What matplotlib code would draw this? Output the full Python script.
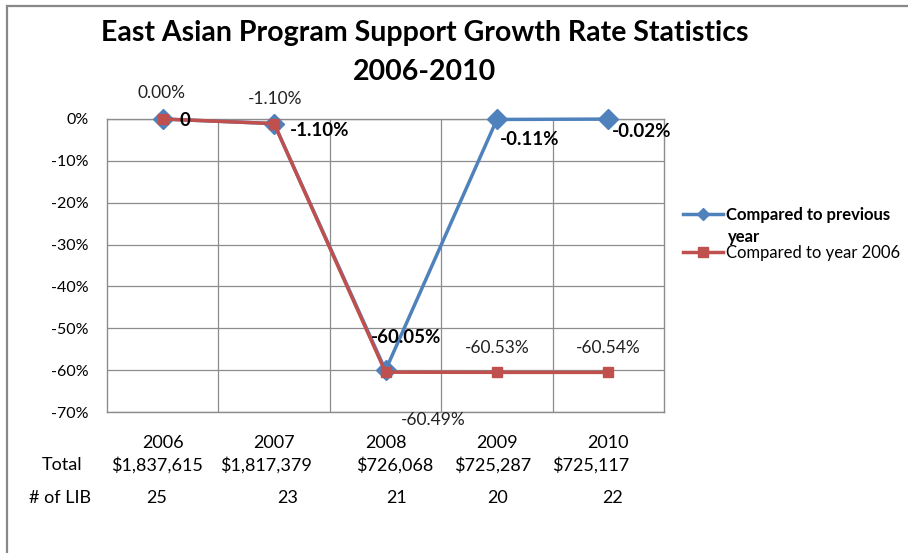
import matplotlib
matplotlib.use("Agg")
import matplotlib.pyplot as plt
import matplotlib.patches as patches
from matplotlib.ticker import FuncFormatter
from matplotlib.lines import Line2D

plt.rcParams['font.family'] = ['Lato', 'DejaVu Sans']

years = ['2006', '2007', '2008', '2009', '2010']
totals = ['$1,837,615', '$1,817,379', '$726,068', '$725,287', '$725,117']
libs = ['25', '23', '21', '20', '22']
prev_year = [0.00, -1.10, -60.05, -0.11, -0.02]
vs_2006 = [0.00, -1.10, -60.49, -60.53, -60.54]
prev_labels = ['0', '-1.10%', '-60.05%', '-0.11%', '-0.02%']
base_labels = ['0.00%', '-1.10%', '-60.49%', '-60.53%', '-60.54%']

BLUE = '#4F81BD'
RED = '#C0504D'
GRID = '#8C8C8C'
PX = 72 / 100.0  # pixels -> points

fig = plt.figure(figsize=(9.08, 5.53), dpi=100)
ax = fig.add_axes([107 / 908, 1 - 412 / 553, 557 / 908, 293 / 553])

x = list(range(len(years)))
ax.plot(x, prev_year, color=BLUE, lw=2.5, marker='D', markersize=10,
        clip_on=False, zorder=3)
ax.plot(x, vs_2006, color=RED, lw=2.5, marker='s', markersize=7.5,
        clip_on=False, zorder=4)

ax.set_xlim(-0.5, 4.5)
ax.set_ylim(-70, 0)
ax.set_yticks(range(-70, 1, 10))
ax.yaxis.set_major_formatter(FuncFormatter(lambda v, p: f"{int(round(v))}%"))
ax.set_xticks([])
ax.tick_params(axis='y', length=0, pad=13, labelsize=11.5)
ax.grid(axis='y', color=GRID, lw=0.9)
for xv in [0.5, 1.5, 2.5, 3.5]:
    ax.axvline(xv, color=GRID, lw=0.9, zorder=0)
for s in ax.spines.values():
    s.set_color(GRID)
    s.set_linewidth(1.0)
ax.set_axisbelow(True)

# data labels (offsets in pixels)
base_off = [(-1, 26), (1, 25), (48, -48), (0, 24), (0, 24)]
for i, (lab, (dx, dy)) in enumerate(zip(base_labels, base_off)):
    ax.annotate(lab, (i, vs_2006[i]), xytext=(dx * PX, dy * PX),
                textcoords='offset points', ha='center', va='center',
                fontsize=12.5, color='#222222', annotation_clip=False)

prev_off = [(22, -2, 'center'), (16, -7, 'left'), (21, 33, 'center'),
            (3, -20, 'left'), (4, -12, 'left')]
for i, (lab, (dx, dy, ha)) in enumerate(zip(prev_labels, prev_off)):
    ax.annotate(lab, (i, prev_year[i]), xytext=(dx * PX, dy * PX),
                textcoords='offset points', ha=ha, va='center',
                fontsize=13.5, fontweight='bold', color='black',
                annotation_clip=False, zorder=5)

# table beneath the chart
xt = ax.get_xaxis_transform()
tot_off = [-6, -8, 9, -4, -18]
lib_off = [-6, 14, 11, 1, 4]
for i in x:
    ax.text(i, (412 - 443) / 293, years[i], transform=xt, ha='center',
            va='center', fontsize=13)
    ax.text(i + tot_off[i] / 111.4, (412 - 465) / 293, totals[i], transform=xt,
            ha='center', va='center', fontsize=13)
    ax.text(i + lib_off[i] / 111.4, (412 - 498) / 293, libs[i], transform=xt,
            ha='center', va='center', fontsize=13)
fig.text(62 / 908, 1 - 465 / 553, 'Total', ha='center', va='center', fontsize=13)
fig.text(60 / 908, 1 - 498 / 553, '# of LIB', ha='center', va='center', fontsize=13)

# title
fig.text(425 / 908, 1 - 33 / 553, 'East Asian Program Support Growth Rate Statistics',
         ha='center', va='center', fontsize=20.5, fontweight='bold')
fig.text(425 / 908, 1 - 72 / 553, '2006-2010', ha='center', va='center',
         fontsize=20.5, fontweight='bold')

# legend
handles = [Line2D([], [], color=BLUE, lw=2.5, marker='D', markersize=6),
           Line2D([], [], color=RED, lw=2.5, marker='s', markersize=7)]
leg = fig.legend(handles, ['Compared to previous', 'Compared to year 2006'],
                 loc='center left', bbox_to_anchor=(683 / 908, 1 - 234 / 553),
                 frameon=False, fontsize=12, handlelength=2.4,
                 handletextpad=0.15, labelspacing=1.3, borderpad=0,
                 borderaxespad=0)
leg.get_texts()[0].set_fontweight('bold')
fig.text(728 / 908, 1 - 237 / 553, 'year', ha='left', va='center',
         fontsize=12, fontweight='bold')

# chart border
fig.patches.append(patches.Rectangle((7 / 908, -0.1), 1.2, 1.1 - 6 / 553,
                                     transform=fig.transFigure, fill=False,
                                     edgecolor='#888888', lw=1.6))

fig.savefig('out.png', dpi=100)
